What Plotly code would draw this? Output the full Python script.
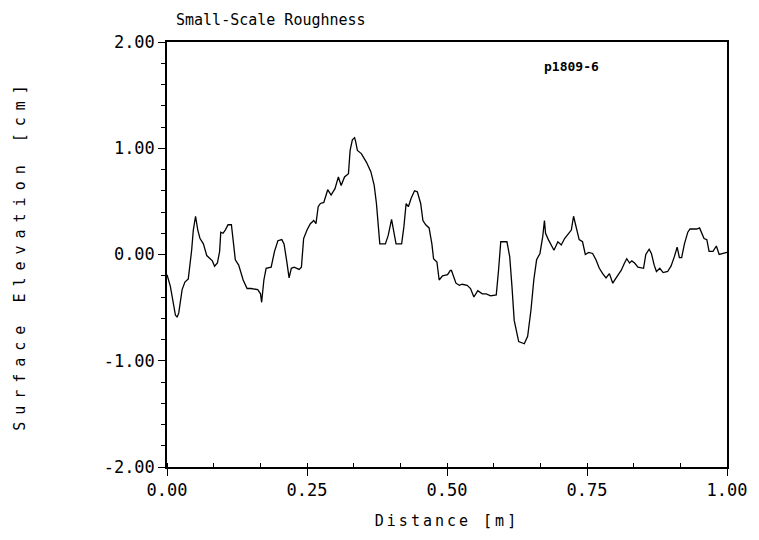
import plotly.graph_objects as go

# Surface profile p1809-6: distance along transect [m] and elevation [cm]
distance_m = [
    0.000, 0.006, 0.015, 0.018, 0.021, 0.027, 0.032, 0.038, 0.044, 0.047,
    0.051, 0.055, 0.059, 0.065, 0.071, 0.077, 0.081, 0.085, 0.090, 0.094,
    0.096, 0.100, 0.104, 0.109, 0.115, 0.118, 0.122, 0.128, 0.136, 0.143,
    0.150, 0.162, 0.167, 0.169, 0.173, 0.177, 0.186, 0.192, 0.198, 0.205,
    0.209, 0.214, 0.218, 0.222, 0.227, 0.236, 0.240, 0.244, 0.250, 0.256,
    0.262, 0.266, 0.270, 0.274, 0.280, 0.287, 0.293, 0.300, 0.306, 0.311,
    0.317, 0.324, 0.327, 0.331, 0.335, 0.337, 0.340, 0.347, 0.356, 0.364,
    0.370, 0.374, 0.377, 0.380, 0.390, 0.395, 0.401, 0.404, 0.409, 0.419,
    0.423, 0.427, 0.431, 0.436, 0.442, 0.447, 0.453, 0.457, 0.462, 0.468,
    0.473, 0.476, 0.482, 0.486, 0.492, 0.501, 0.506, 0.508, 0.516, 0.522,
    0.527, 0.536, 0.542, 0.548, 0.555, 0.563, 0.570, 0.578, 0.588, 0.592,
    0.596, 0.607, 0.612, 0.616, 0.620, 0.628, 0.638, 0.644, 0.650, 0.655,
    0.660, 0.666, 0.671, 0.674, 0.676, 0.681, 0.687, 0.691, 0.698, 0.704,
    0.710, 0.719, 0.722, 0.726, 0.731, 0.736, 0.742, 0.747, 0.753, 0.760,
    0.766, 0.772, 0.778, 0.784, 0.790, 0.796, 0.802, 0.811, 0.817, 0.821,
    0.826, 0.830, 0.835, 0.841, 0.851, 0.855, 0.861, 0.865, 0.870, 0.874,
    0.880, 0.886, 0.894, 0.900, 0.906, 0.911, 0.915, 0.919, 0.924, 0.930,
    0.934, 0.946, 0.951, 0.955, 0.959, 0.964, 0.968, 0.975, 0.981, 0.986,
    0.992, 1.000,
]
elevation_cm = [
    -0.19, -0.30, -0.57, -0.59, -0.55, -0.33, -0.26, -0.23, 0.04, 0.23,
    0.36, 0.23, 0.15, 0.10, -0.01, -0.04, -0.06, -0.11, -0.08, 0.03,
    0.21, 0.20, 0.23, 0.28, 0.28, 0.14, -0.05, -0.10, -0.24, -0.32,
    -0.32, -0.33, -0.37, -0.45, -0.24, -0.13, -0.12, 0.03, 0.13, 0.14,
    0.10, -0.07, -0.22, -0.13, -0.12, -0.14, -0.12, 0.15, 0.23, 0.29,
    0.32, 0.29, 0.45, 0.48, 0.49, 0.61, 0.56, 0.62, 0.73, 0.65,
    0.73, 0.76, 0.98, 1.08, 1.10, 1.06, 0.98, 0.95, 0.87, 0.78,
    0.65, 0.48, 0.26, 0.10, 0.10, 0.18, 0.33, 0.23, 0.10, 0.10,
    0.26, 0.48, 0.45, 0.53, 0.60, 0.59, 0.48, 0.32, 0.28, 0.25,
    0.10, -0.04, -0.07, -0.24, -0.20, -0.19, -0.15, -0.15, -0.27, -0.29,
    -0.28, -0.29, -0.32, -0.40, -0.34, -0.37, -0.37, -0.39, -0.38, -0.15,
    0.12, 0.12, -0.02, -0.30, -0.62, -0.82, -0.84, -0.77, -0.52, -0.24,
    -0.05, 0.01, 0.17, 0.32, 0.20, 0.14, 0.08, 0.04, 0.12, 0.09,
    0.15, 0.21, 0.23, 0.36, 0.25, 0.14, 0.12, 0.00, 0.02, 0.01,
    -0.05, -0.13, -0.18, -0.22, -0.18, -0.27, -0.22, -0.15, -0.08, -0.04,
    -0.08, -0.06, -0.08, -0.12, -0.13, 0.00, 0.05, 0.01, -0.10, -0.16,
    -0.13, -0.17, -0.16, -0.11, -0.02, 0.07, -0.03, -0.03, 0.10, 0.21,
    0.24, 0.24, 0.25, 0.20, 0.15, 0.14, 0.03, 0.03, 0.08, 0.00,
    0.01, 0.02,
]

x_ticks = [0.0, 0.25, 0.5, 0.75, 1.0]
x_tick_text = ["0.00", "0.25", "0.50", "0.75", "1.00"]
y_ticks = [-2.0, -1.0, 0.0, 1.0, 2.0]
y_tick_text = ["-2.00", "-1.00", "0.00", "1.00", "2.00"]

FONT = "DejaVu Sans Mono"

fig = go.Figure()
fig.add_trace(go.Scatter(
    x=distance_m, y=elevation_cm, mode="lines",
    line=dict(color="black", width=1.3),
    showlegend=False, hoverinfo="skip",
))

fig.add_annotation(
    x=0.722, y=1.77, xref="x", yref="y", text="<b>p1809-6</b>",
    showarrow=False, font=dict(family=FONT, size=13, color="black"),
)

fig.update_layout(
    width=759, height=540,
    margin=dict(l=167, r=27, t=42, b=73),
    paper_bgcolor="white", plot_bgcolor="white",
    font=dict(family=FONT, color="black"),
    title=dict(
        text="Small-Scale Roughness",
        x=176 / 759, xanchor="left", xref="container",
        y=1 - 20 / 540, yanchor="middle", yref="container",
        font=dict(family=FONT, size=15, color="black"),
    ),
)

fig.update_xaxes(
    range=[0, 1], tickmode="array", tickvals=x_ticks, ticktext=x_tick_text,
    showgrid=False, zeroline=False,
    showline=True, linecolor="black", linewidth=1.5, mirror=True,
    ticks="outside", ticklen=7, tickwidth=1.2, tickcolor="black",
    tickfont=dict(family=FONT, size=17, color="black"),
    minor=dict(tickmode="linear", tick0=0, dtick=0.25 / 3, ticks="inside",
               ticklen=4, tickwidth=1, tickcolor="black", showgrid=False),
    title=dict(text='<span style="letter-spacing:3px">Distance [m]</span>',
               font=dict(family=FONT, size=15, color="black"), standoff=16),
)
fig.update_yaxes(
    range=[-2, 2], tickmode="array", tickvals=y_ticks, ticktext=y_tick_text,
    showgrid=False, zeroline=False,
    showline=True, linecolor="black", linewidth=1.5, mirror=True,
    ticks="outside", ticklen=7, tickwidth=1.2, tickcolor="black",
    tickfont=dict(family=FONT, size=17, color="black"),
    minor=dict(tickmode="linear", tick0=0, dtick=0.2, ticks="outside",
               ticklen=4, tickwidth=1, tickcolor="black", showgrid=False),
    title=dict(text='<span style="letter-spacing:7px">Surface Elevation [cm]</span>',
               font=dict(family=FONT, size=15, color="black"), standoff=74),
)

fig.write_html("out.html")
